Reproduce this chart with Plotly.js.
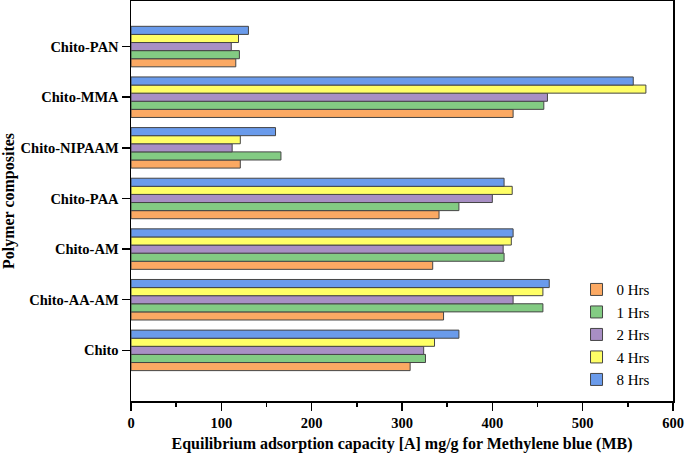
<!DOCTYPE html>
<html>
<head>
<meta charset="utf-8">
<script src="https://cdn.plot.ly/plotly-3.0.1.min.js"></script>
<style>html,body{margin:0;padding:0;background:#fff}#chart{width:685px;height:455px}</style>
</head>
<body>
<div id="chart"></div>
<script>
const categories = ["Chito", "Chito-AA-AM", "Chito-AM", "Chito-PAA", "Chito-NIPAAM", "Chito-MMA", "Chito-PAN"];
const seriesNames = ["0 Hrs", "1 Hrs", "2 Hrs", "4 Hrs", "8 Hrs"];
const hrs0 = [309, 346, 334, 341, 121, 423, 116];
const hrs1 = [326, 456, 413, 363, 166, 457, 120];
const hrs2 = [324, 423, 412, 400, 112, 461, 111];
const hrs4 = [336, 456, 421, 422, 121, 570, 119];
const hrs8 = [363, 463, 423, 413, 160, 556, 130];
const xTickVals = [0, 100, 200, 300, 400, 500, 600];
const yBoundaryTicks = [-0.5, 0.5, 1.5, 2.5, 3.5, 4.5, 5.5, 6.5];

const colors = ["#FBA963", "#83CB83", "#A88FC4", "#FFFF66", "#6A9BEB"];
const values = [hrs0, hrs1, hrs2, hrs4, hrs8];
const font = "Liberation Serif, Times New Roman, serif";

const traces = values.map((v, i) => ({
  type: "bar",
  orientation: "h",
  name: seriesNames[i],
  x: v,
  y: categories,
  marker: {color: colors[i], line: {color: "#454545", width: 1}},
  hoverinfo: "x+name"
}));

const layout = {
  width: 685, height: 455,
  margin: {l: 131, r: 12, t: 1, b: 54},
  paper_bgcolor: "#fff", plot_bgcolor: "#fff",
  barmode: "group", bargap: 0.2, bargroupgap: 0,
  font: {family: font, color: "#000"},
  showlegend: true,
  legend: {
    x: 0.822, xanchor: "left", y: 0.012, yanchor: "bottom",
    traceorder: "normal",
    font: {family: font, size: 15, color: "#000"},
    bgcolor: "rgba(255,255,255,0)", borderwidth: 0,
    tracegroupgap: 0
  },
  xaxis: {
    range: [0, 600], tickvals: xTickVals, ticks: "outside", ticklen: 8, tickwidth: 1.5,
    tickcolor: "#000", showline: true, linecolor: "#000", linewidth: 1.5, mirror: true,
    showgrid: false, zeroline: false,
    minor: {dtick: 50, tick0: 0, ticks: "outside", ticklen: 4, tickwidth: 1.5, tickcolor: "#000", showgrid: false},
    tickfont: {family: font, size: 14.5, color: "#000", weight: "bold"},
    title: {text: "<b>Equilibrium adsorption capacity [A] mg/g for Methylene blue (MB)</b>", font: {family: font, size: 16, color: "#000"}, standoff: 8}
  },
  yaxis: {
    type: "category", categoryorder: "array", categoryarray: categories,
    range: [-1.0, 6.9], ticks: "outside", ticklen: 8, tickwidth: 1.5, tickcolor: "#000",
    showline: true, linecolor: "#000", linewidth: 1.5, mirror: true,
    showgrid: false, zeroline: false,
    tickfont: {family: font, size: 14.5, color: "#000", weight: "bold"},
    title: {text: "<b>Polymer composites</b>", font: {family: font, size: 16, color: "#000"}, standoff: 6}
  },
  yaxis2: {
    overlaying: "y", side: "left", type: "linear", anchor: "x",
    range: [-1.0, 6.9], tickmode: "array", tickvals: yBoundaryTicks,
    ticks: "outside", ticklen: 8, tickwidth: 1.5, tickcolor: "#000",
    showticklabels: false, showgrid: false, zeroline: false, showline: false
  }
};

Plotly.newPlot("chart", traces, layout, {displayModeBar: false, staticPlot: true});
</script>
</body>
</html>
